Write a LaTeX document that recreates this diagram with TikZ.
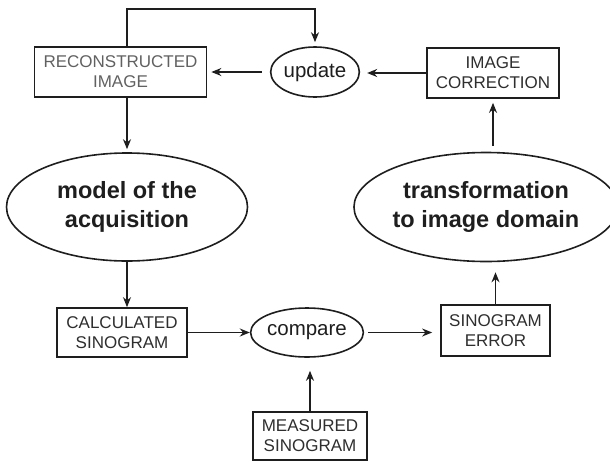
\documentclass[tikz,border=0pt]{standalone}
\usepackage{fontspec}
\setmainfont{Liberation Sans}
\usetikzlibrary{shapes.geometric,arrows.meta}
\definecolor{ink}{HTML}{1E1E1E}
\definecolor{txt}{HTML}{2E2E2E}
\tikzset{
  boxnode/.style={draw=ink, line width=1.7pt, inner sep=0pt, align=center, text=txt,
    font=\fontsize{17}{20}\selectfont},
  ovalnode/.style={draw=ink, line width=1.6pt, ellipse, inner sep=0pt, align=center, text=ink},
  smalloval/.style={ovalnode, font=\fontsize{20.5}{24}\selectfont},
  bigoval/.style={ovalnode, font=\bfseries\fontsize{23.5}{29}\selectfont},
  arr/.style={draw=ink, line width=1.6pt, -{Stealth[length=10pt,width=8pt]}}
}
\begin{document}
\begin{tikzpicture}[x=1pt,y=-1pt]
\useasboundingbox (0,0) rectangle (610,461);
\node[boxnode, minimum width=172pt, minimum height=50pt, text=black!62] (recon) at (120.5,72) {RECONSTRUCTED\\IMAGE};
\node[smalloval, minimum width=86pt, minimum height=50pt] (update) at (315,72) {update};
\node[boxnode, minimum width=132pt, minimum height=50pt] (imgcorr) at (493,73) {IMAGE\\CORRECTION};
\node[bigoval, minimum width=241pt, minimum height=108pt] (model) at (127,207) {model of the\\acquisition};
\node[bigoval, minimum width=229pt, minimum height=109pt] (transf) at (486,207) {transformation\\to image domain};
\node[boxnode, minimum width=130pt, minimum height=49pt] (calc) at (122,332.5) {CALCULATED\\SINOGRAM};
\node[smalloval, minimum width=88pt, minimum height=49pt] (compare) at (307,332.5) {compare};
\node[boxnode, minimum width=109pt, minimum height=51pt] (sinoerr) at (495.5,330.5) {SINOGRAM\\ERROR};
\node[boxnode, minimum width=114pt, minimum height=48pt] (measured) at (310,436) {MEASURED\\SINOGRAM};
\coordinate (fbk) at (220,9);

\draw[arr, shorten >=4pt] (recon.north -| model.north) |- (fbk) -| (update.north);
\draw[arr, shorten <=8pt, shorten >=4pt] (update.west) -- (recon.east);
\draw[arr, shorten >=7pt] (imgcorr.west) -- (imgcorr.west -| update.east);
\draw[arr, shorten >=3pt] (recon.south -| model.north) -- (model.north);
\draw[arr] (model.south) -- (model.south |- calc.north);
\draw[arr] (calc.east) -- (compare.west);
\draw[arr, shorten <=4pt, shorten >=8pt] (compare.east) -- (compare.east -| sinoerr.west);
\draw[arr, shorten >=13pt] (measured.north) -- (measured.north |- compare.south);
\draw[arr, shorten >=10pt] (sinoerr.north) -- (sinoerr.north |- transf.south);
\draw[arr, shorten <=6pt, shorten >=4pt] (imgcorr.south |- transf.north) -- (imgcorr.south);
\end{tikzpicture}
\end{document}
